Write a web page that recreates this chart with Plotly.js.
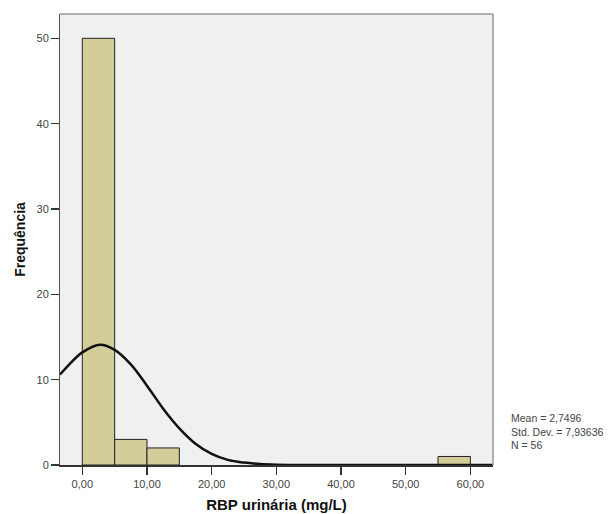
<!DOCTYPE html>
<html>
<head>
<meta charset="utf-8">
<script src="https://cdn.plot.ly/plotly-3.0.1.min.js"></script>
<style>html,body{margin:0;padding:0;background:#fff;}#chart{width:615px;height:514px;}</style>
</head>
<body>
<div id="chart"></div>
<script>
// Histogram bins (mg/L) and frequencies
const binCenters = [2.5, 7.5, 12.5, 57.5];
const binCounts = [50, 3, 2, 1];
// Normal curve
const curveX = [-3.45, -2, 0, 2.75, 5, 7.5, 10, 12.5, 15, 17.5, 20, 22.5, 25, 27.5, 30, 35, 40, 50, 63.5];
const curveY = [10.6, 11.8, 13.2, 14.1, 13.5, 11.8, 9.3, 6.6, 4.3, 2.5, 1.3, 0.6, 0.28, 0.11, 0.04, 0, 0, 0, 0];
// Tick labels
const xTickVals = [0, 10, 20, 30, 40, 50, 60];
const xTickText = ['0,00', '10,00', '20,00', '30,00', '40,00', '50,00', '60,00'];
const yTickVals = [0, 10, 20, 30, 40, 50];
const yTickText = ['0', '10', '20', '30', '40', '50'];
const statsLines = ['Mean = 2,7496', 'Std. Dev. = 7,93636', 'N = 56'];

const font = 'Liberation Sans, Arial, sans-serif';
const traces = [
  {
    type: 'bar', x: binCenters, y: binCounts, width: 5,
    marker: {color: '#d3ce99', line: {color: '#222222', width: 1}},
    hoverinfo: 'skip'
  },
  {
    type: 'scatter', mode: 'lines', x: curveX, y: curveY,
    line: {color: '#111111', width: 2.5, shape: 'spline'},
    hoverinfo: 'skip'
  }
];
const layout = {
  width: 615, height: 514,
  margin: {l: 60, r: 122, t: 14, b: 49},
  paper_bgcolor: '#ffffff', plot_bgcolor: '#f0f0f0',
  showlegend: false,
  font: {family: font, color: '#444444', size: 11},
  xaxis: {
    range: [-3.45, 63.5], tickvals: xTickVals, ticktext: xTickText,
    ticks: 'outside', ticklen: 8, tickwidth: 1.5, tickcolor: '#333333',
    showgrid: false, zeroline: false, showline: true, linecolor: '#333333', linewidth: 1.5,
    mirror: false, tickfont: {size: 11, color: '#444444'},
    title: {text: 'RBP urinária (mg/L)', font: {size: 15, color: '#111111', family: font, weight: 'bold'}, standoff: 11}
  },
  yaxis: {
    range: [0, 52.85], tickvals: yTickVals, ticktext: yTickText,
    ticks: 'outside', ticklen: 8, tickwidth: 1.5, tickcolor: '#333333',
    showgrid: false, zeroline: false, showline: true, linecolor: '#555555', linewidth: 1,
    tickfont: {size: 11, color: '#444444'},
    title: {text: 'Frequência', font: {size: 14, color: '#111111', family: font, weight: 'bold'}, standoff: 7}
  },
  shapes: [
    {type: 'line', xref: 'paper', yref: 'paper', x0: 0, x1: 1, y0: 1, y1: 1, line: {color: '#999999', width: 1.5}},
    {type: 'line', xref: 'paper', yref: 'paper', x0: 1, x1: 1, y0: 0, y1: 1, line: {color: '#999999', width: 1.5}}
  ],
  annotations: [{
    xref: 'paper', yref: 'paper', x: 1.04, y: 0.0743, xanchor: 'left', yanchor: 'middle', align: 'left',
    showarrow: false, borderpad: 0, text: statsLines.join('<br>'), font: {size: 10.5, color: '#444444', family: font}
  }]
};
Plotly.newPlot('chart', traces, layout, {displayModeBar: false, staticPlot: true});
</script>
</body>
</html>
